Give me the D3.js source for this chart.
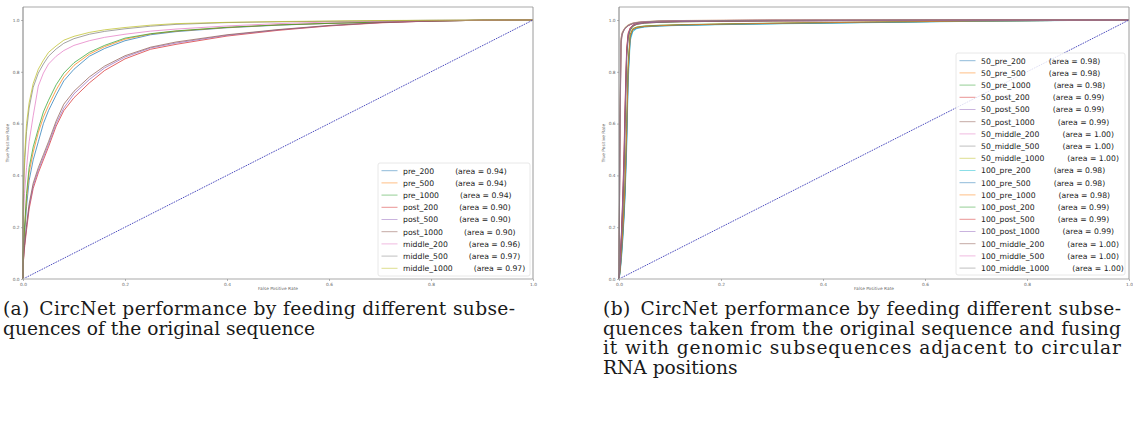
<!DOCTYPE html>
<html>
<head>
<meta charset="utf-8">
<script src="https://cdn.jsdelivr.net/npm/d3@7"></script>
<style>
  body { margin: 0; background: #fff; }
  svg { display: block; }
</style>
</head>
<body>
<div class="holder"></div>
<script>
// tick values shared by both panels
var tickValues = [0, 0.2, 0.4, 0.6, 0.8, 1.0]

var palette = ['#1f77b4', '#ff7f0e', '#2ca02c', '#d62728', '#9467bd',
               '#8c564b', '#e377c2', '#7f7f7f', '#bcbd22', '#17becf']

// ---- panel (a) ----
var namesA = ['pre_200', 'pre_500', 'pre_1000', 'post_200', 'post_500', 'post_1000',
              'middle_200', 'middle_500', 'middle_1000']
var aucA = [0.94, 0.94, 0.94, 0.90, 0.90, 0.90, 0.96, 0.97, 0.97]

var fprA = [0, 0, 0.003, 0.007, 0.012, 0.02, 0.03, 0.04, 0.05, 0.065, 0.08, 0.1,
            0.13, 0.16, 0.2, 0.25, 0.3, 0.4, 0.5, 0.6, 0.7, 0.8, 0.9, 1.0]

var tprA = [
  [0, .08, .17, .28, .38, .46, .53, .60, .65, .71, .765, .81, .86, .89, .92, .943, .955, .97, .98, .987, .992, .996, .999, 1],
  [0, .09, .19, .31, .41, .49, .565, .625, .67, .73, .78, .825, .868, .897, .926, .946, .957, .971, .981, .987, .992, .996, .999, 1],
  [0, .10, .20, .33, .43, .51, .58, .645, .69, .75, .795, .835, .875, .902, .93, .947, .958, .972, .981, .987, .992, .996, .999, 1],
  [0, .05, .12, .19, .27, .35, .41, .46, .51, .59, .65, .70, .757, .805, .85, .887, .906, .938, .96, .977, .989, .996, .999, 1],
  [0, .06, .13, .20, .28, .36, .42, .47, .52, .60, .66, .715, .77, .815, .857, .892, .911, .941, .962, .978, .99, .996, .999, 1],
  [0, .05, .13, .21, .29, .37, .43, .48, .53, .61, .675, .725, .78, .822, .862, .895, .915, .943, .963, .979, .99, .996, .999, 1],
  [0, .20, .33, .43, .53, .63, .745, .795, .83, .86, .882, .902, .92, .933, .945, .957, .965, .977, .986, .992, .995, .998, .999, 1],
  [0, .25, .44, .57, .66, .74, .795, .83, .86, .888, .91, .928, .945, .956, .966, .976, .983, .99, .993, .995, .997, .999, 1, 1],
  [0, .30, .47, .60, .68, .755, .81, .845, .875, .90, .922, .937, .952, .962, .971, .98, .986, .991, .994, .996, .998, .999, 1, 1]
]

// ---- panel (b) ----
var namesB = ['50_pre_200', '50_pre_500', '50_pre_1000', '50_post_200', '50_post_500', '50_post_1000',
              '50_middle_200', '50_middle_500', '50_middle_1000',
              '100_pre_200', '100_pre_500', '100_pre_1000', '100_post_200', '100_post_500', '100_post_1000',
              '100_middle_200', '100_middle_500', '100_middle_1000']
var aucB = [0.98, 0.98, 0.98, 0.99, 0.99, 0.99, 1.00, 1.00, 1.00,
            0.98, 0.98, 0.98, 0.99, 0.99, 0.99, 1.00, 1.00, 1.00]

var fprB = [0, .002, .004, .006, .008, .01, .012, .015, .018, .022, .027, .035, .05, .08, .12, .2, .3, .5, .7, 1]

var tprB = [
  [0, .03, .08, .14, .2, .27, .36, .55, .8, .935, .962, .97, .975, .978, .98, .983, .986, .991, .996, 1],
  [0, .03, .07, .13, .19, .26, .35, .56, .82, .94, .965, .972, .976, .979, .981, .984, .987, .992, .996, 1],
  [0, .04, .09, .15, .21, .29, .38, .6, .84, .945, .967, .973, .977, .98, .982, .985, .988, .992, .996, 1],
  [0, .05, .12, .2, .3, .42, .6, .85, .93, .96, .975, .983, .988, .991, .993, .995, .997, .998, .999, 1],
  [0, .05, .13, .22, .33, .45, .63, .87, .94, .965, .978, .985, .989, .992, .994, .996, .997, .998, .999, 1],
  [0, .06, .14, .23, .35, .48, .66, .88, .945, .968, .98, .986, .99, .993, .995, .996, .997, .998, .999, 1],
  [0, .55, .9, .94, .952, .96, .966, .972, .977, .981, .985, .989, .992, .995, .997, .998, .999, 1, 1, 1],
  [0, .6, .92, .945, .955, .963, .969, .975, .979, .983, .987, .99, .993, .996, .997, .998, .999, 1, 1, 1],
  [0, .62, .93, .95, .958, .965, .971, .977, .981, .985, .988, .991, .994, .996, .998, .999, 1, 1, 1, 1],
  [0, .02, .06, .11, .17, .24, .32, .5, .76, .92, .955, .967, .973, .977, .979, .982, .985, .99, .995, 1],
  [0, .03, .07, .12, .18, .25, .34, .53, .79, .93, .96, .969, .974, .977, .98, .983, .986, .991, .996, 1],
  [0, .03, .08, .14, .2, .28, .37, .57, .81, .94, .964, .971, .975, .978, .981, .984, .987, .992, .996, 1],
  [0, .05, .12, .21, .31, .43, .61, .86, .935, .962, .976, .984, .988, .991, .993, .995, .997, .998, .999, 1],
  [0, .06, .14, .24, .36, .5, .68, .89, .95, .97, .98, .986, .99, .993, .995, .996, .997, .998, .999, 1],
  [0, .05, .13, .22, .34, .46, .64, .87, .942, .966, .979, .985, .989, .992, .994, .996, .997, .998, .999, 1],
  [0, .58, .91, .942, .953, .961, .967, .973, .978, .982, .986, .99, .993, .995, .997, .998, .999, 1, 1, 1],
  [0, .63, .93, .95, .958, .965, .97, .976, .98, .984, .988, .991, .994, .996, .998, .999, 1, 1, 1, 1],
  [0, .6, .92, .946, .956, .963, .969, .975, .979, .983, .987, .99, .993, .996, .997, .998, .999, 1, 1, 1]
]

var captionA = ['(a)\u2002CircNet performance by feeding different subse-',
                'quences of the original sequence']
var captionB = ['(b)\u2002CircNet performance by feeding different subse-',
                'quences taken from the original sequence and fusing',
                'it with genomic subsequences adjacent to circular',
                'RNA positions']

var width = 1133, height = 423

var svg = d3.select('.holder')
  .append('svg')
  .attr('width', width)
  .attr('height', height)

// size the caption font so the short line of (a) is as wide as in the picture
var probe = svg.append('text')
  .style('font-family', 'DejaVu Serif, serif')
  .style('font-size', '16px')
  .text(captionA[1])
var capSize = 16 * 312 / probe.node().getComputedTextLength()
probe.remove()

function panel(cfg) {
  var x = d3.scaleLinear().domain([0, 1]).range([cfg.left, cfg.right])
  var y = d3.scaleLinear().domain([0, 1.05]).range([279, 279 - 1.05 * 259])

  var g = svg.append('g')

  var line = d3.line()
    .x(function (d) { return x(d[0]) })
    .y(function (d) { return y(d[1]) })

  // curves
  cfg.tpr.forEach(function (row, i) {
    var pts = row.map(function (v, k) { return [cfg.fpr[k], v] })
    g.append('path')
      .attr('d', line(pts))
      .attr('fill', 'none')
      .attr('stroke', palette[i % 10])
      .attr('stroke-width', 0.9)
      .attr('stroke-opacity', 0.8)
  })

  // chance line
  g.append('path')
    .attr('d', line([[0, 0], [1, 1]]))
    .attr('fill', 'none')
    .attr('stroke', '#3b3bb8')
    .attr('stroke-width', 0.9)
    .attr('stroke-dasharray', '1.6,1')

  // spines
  var top = y(1.05), bottom = y(0)
  g.append('line').attr('x1', cfg.left).attr('x2', cfg.right).attr('y1', top).attr('y2', top)
    .attr('stroke', '#d4d4d4').attr('stroke-width', 2)
  g.append('line').attr('x1', cfg.left).attr('x2', cfg.right).attr('y1', bottom).attr('y2', bottom)
    .attr('stroke', '#d4d4d4').attr('stroke-width', 2)
  g.append('line').attr('x1', cfg.left).attr('x2', cfg.left).attr('y1', top).attr('y2', bottom)
    .attr('stroke', '#7a7a7a').attr('stroke-width', 1)
  g.append('line').attr('x1', cfg.right).attr('x2', cfg.right).attr('y1', top).attr('y2', bottom)
    .attr('stroke', '#9a9a9a').attr('stroke-width', 1)

  // axes
  var xAxis = d3.axisBottom(x).tickValues(tickValues).tickFormat(d3.format('.1f'))
    .tickSize(2).tickPadding(1.5)
  var yAxis = d3.axisLeft(y).tickValues(tickValues).tickFormat(d3.format('.1f'))
    .tickSize(2).tickPadding(1.5)

  var xg = g.append('g').attr('transform', 'translate(0,' + bottom + ')').call(xAxis)
  var yg = g.append('g').attr('transform', 'translate(' + cfg.left + ',0)').call(yAxis)
  ;[xg, yg].forEach(function (a) {
    a.select('.domain').remove()
    a.selectAll('line').attr('stroke', '#888').attr('stroke-width', 0.6)
    a.selectAll('text').attr('fill', '#666').style('font-size', '4.3px')
      .style('font-family', 'DejaVu Sans')
  })

  g.append('text')
    .attr('x', (cfg.left + cfg.right) / 2)
    .attr('y', 290)
    .attr('text-anchor', 'middle')
    .style('font-family', 'DejaVu Sans')
    .style('font-size', '4.3px')
    .attr('fill', '#666')
    .text('False Positive Rate')

  g.append('text')
    .attr('transform', 'translate(' + (cfg.left - 14) + ',' + y(0.525) + ') rotate(-90)')
    .attr('text-anchor', 'middle')
    .style('font-family', 'DejaVu Sans')
    .style('font-size', '4.3px')
    .attr('fill', '#666')
    .text('True Positive Rate')

  // legend
  var lg = g.append('g')
  lg.append('rect')
    .attr('x', cfg.legX).attr('y', cfg.legY)
    .attr('width', cfg.legW).attr('height', cfg.legH)
    .attr('rx', 2)
    .attr('fill', '#fff').attr('fill-opacity', 0.82)
    .attr('stroke', '#e2e2e2').attr('stroke-width', 0.8)

  cfg.names.forEach(function (name, i) {
    var yy = cfg.legY + 7.7 + i * 12.2
    lg.append('line')
      .attr('x1', cfg.legX + 3.5).attr('x2', cfg.legX + 19.5)
      .attr('y1', yy).attr('y2', yy)
      .attr('stroke', palette[i % 10])
      .attr('stroke-width', 1)
      .attr('stroke-opacity', 0.5)
    var t = lg.append('text')
      .attr('x', cfg.legX + 25)
      .attr('y', yy + 2.8)
      .style('font-family', 'DejaVu Sans')
      .style('font-size', '7.7px')
      .attr('fill', '#222')
      .text(name)
    var w = t.node().getComputedTextLength()
    lg.append('text')
      .attr('x', cfg.legX + 25 + w + cfg.gap)
      .attr('y', yy + 2.8)
      .style('font-family', 'DejaVu Sans')
      .style('font-size', '7.7px')
      .attr('fill', '#222')
      .text('(area = ' + cfg.auc[i].toFixed(2) + ')')
  })

  // caption, justified like the typeset figure
  cfg.caption.forEach(function (s, i) {
    var t = svg.append('text')
      .attr('x', cfg.capX)
      .attr('y', 315 + i * 19.5)
      .style('font-family', 'DejaVu Serif, serif')
      .style('font-size', capSize + 'px')
      .attr('fill', '#1a1a1a')
      .text(s)
    if (i < cfg.caption.length - 1) {
      t.attr('textLength', cfg.capW).attr('lengthAdjust', 'spacing')
    }
  })
}

panel({
  left: 23, right: 533,
  fpr: fprA, tpr: tprA, names: namesA, auc: aucA,
  legX: 378, legY: 163, legW: 152, legH: 113, gap: 21,
  caption: captionA, capX: 3, capW: 512
})

panel({
  left: 619, right: 1129,
  fpr: fprB, tpr: tprB, names: namesB, auc: aucB,
  legX: 956, legY: 53, legW: 169, legH: 222, gap: 23,
  caption: captionB, capX: 603, capW: 518
})
</script>
</body>
</html>
